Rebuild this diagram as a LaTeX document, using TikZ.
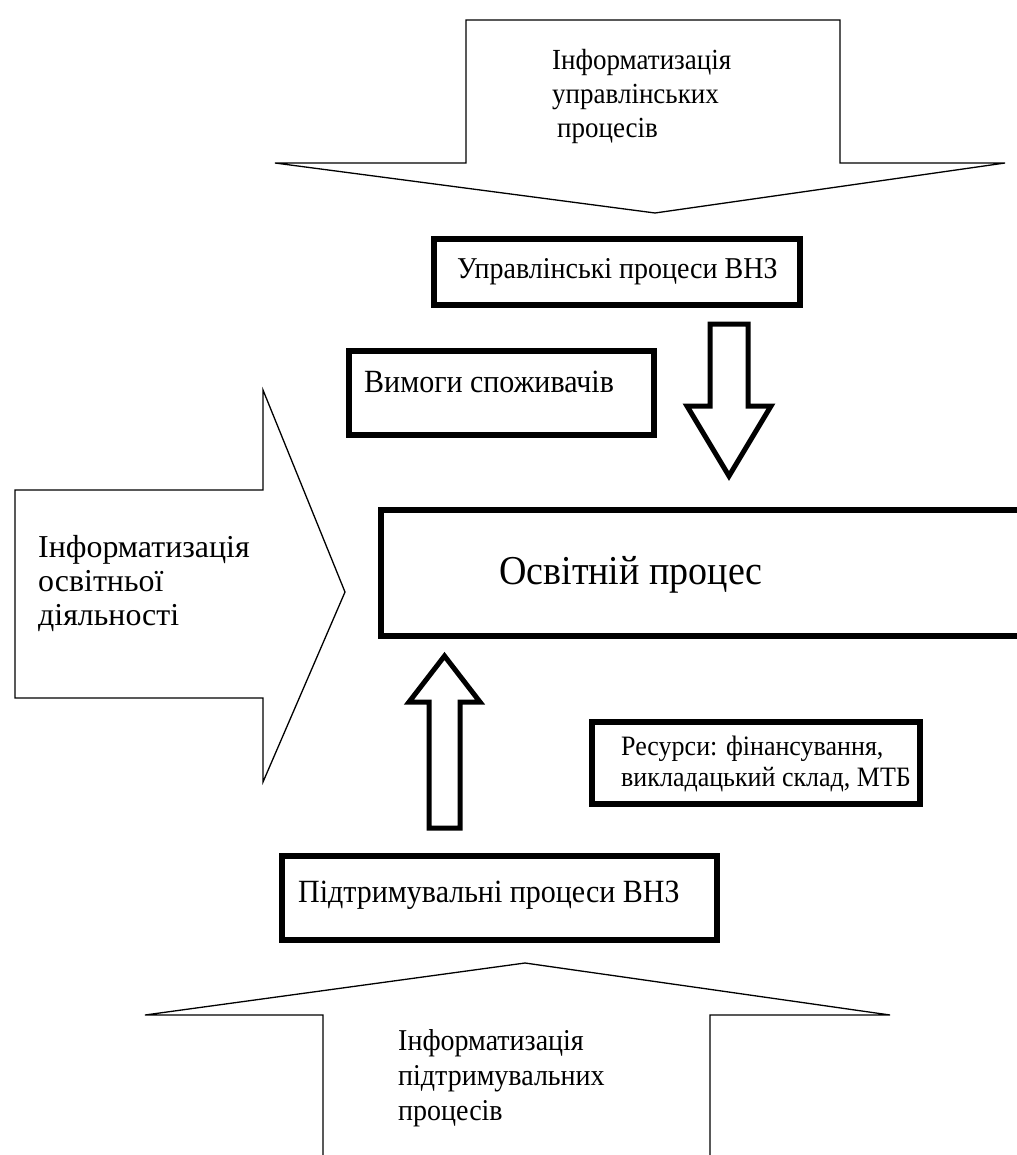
\documentclass[tikz,border=0pt]{standalone}
\usepackage{fontspec}
\setmainfont{Liberation Serif}
\newcommand{\tallt}[1]{\scalebox{1}[1.08]{#1}}
\newcommand{\widet}[1]{\scalebox{1.1}[1.1]{#1}}
\begin{document}
\begin{tikzpicture}[x=1pt,y=-1pt,
  thinarrow/.style={draw=black, line width=1.3pt, fill=white, line join=miter},
  thickbox/.style={draw=black, line width=6pt, fill=white},
  hollow/.style={draw=black, line width=5pt, fill=white, line join=miter, miter limit=10},
  toplbl/.style={font=\fontsize{27}{35}\selectfont, anchor=base west, inner sep=0pt},
  leftlbl/.style={font=\fontsize{29}{35}\selectfont, anchor=base west, inner sep=0pt},
  botlbl/.style={font=\fontsize{28}{35}\selectfont, anchor=base west, inner sep=0pt},
  boxlbl/.style={font=\fontsize{28}{35}\selectfont, anchor=base west, inner sep=0pt},
  bigboxlbl/.style={font=\fontsize{30}{35}\selectfont, anchor=base west, inner sep=0pt},
  biglbl/.style={font=\fontsize{38}{44}\selectfont, anchor=base west, inner sep=0pt},
  smalllbl/.style={font=\fontsize{26}{30}\selectfont, anchor=base west, inner sep=0pt}]
\useasboundingbox[fill=white] (0,0) rectangle (1016,1155);

% top big arrow (down)
\draw[thinarrow] (466,20) -- (840,20) -- (840,163) -- (1005,163) -- (655,213)
  -- (275,163) -- (466,163) -- cycle;
\node[toplbl] (t1) at (552,70) {\tallt{Інформатизація}};
\node[toplbl] (t2) at (552,104) {\tallt{управлінських}};
\node[toplbl] (t3) at (557,138) {\tallt{процесів}};

% box: management processes
\node[thickbox, anchor=north west, minimum width=366pt, minimum height=66pt, inner sep=0pt]
  (upr) at (431,236) {};
\node[boxlbl] (uprt) at (457,279) {\tallt{Управлінські процеси ВНЗ}};

% box: requirements
\node[thickbox, anchor=north west, minimum width=305pt, minimum height=84pt, inner sep=0pt]
  (vym) at (346,348) {};
\node[bigboxlbl] (vymt) at (364,392) {\tallt{Вимоги споживачів}};

% down hollow arrow
\draw[hollow] (710,324) -- (748,324) -- (748,406) -- (771,406) -- (729,476)
  -- (687,406) -- (710,406) -- cycle;

% left big arrow (right)
\draw[thinarrow] (15,490) -- (263,490) -- (263,390) -- (345,592) -- (263,782)
  -- (263,698) -- (15,698) -- cycle;
\node[leftlbl] (l1) at (38,557) {\widet{Інформатизація}};
\node[leftlbl] (l2) at (38,591) {\widet{освітньої}};
\node[leftlbl] (l3) at (38,625) {\widet{діяльності}};

% main box
\node[thickbox, anchor=north west, minimum width=660pt, minimum height=126pt, inner sep=0pt]
  (osv) at (378,507) {};
\node[biglbl] (osvt) at (499,584) {\tallt{Освітній процес}};

% up hollow arrow
\draw[hollow] (429,828) -- (460,828) -- (460,702) -- (480,702) -- (444.5,656)
  -- (409,702) -- (429,702) -- cycle;

% resources box
\node[thickbox, anchor=north west, minimum width=328pt, minimum height=82pt, inner sep=0pt]
  (res) at (589,719) {};
\node[smalllbl] (res1) at (621,755) {\tallt{Ресурси: фінансування,}};
\node[smalllbl] (res2) at (621,786) {\tallt{викладацький склад, МТБ}};

% support box
\node[thickbox, anchor=north west, minimum width=435pt, minimum height=84pt, inner sep=0pt]
  (pid) at (279,853) {};
\node[bigboxlbl] (pidt) at (298,902) {\tallt{Підтримувальні процеси ВНЗ}};

% bottom big arrow (up)
\draw[thinarrow] (323,1170) -- (323,1015) -- (145,1015) -- (525,963) -- (890,1015)
  -- (710,1015) -- (710,1170);
\node[botlbl] (b1) at (398,1050) {\tallt{Інформатизація}};
\node[botlbl] (b2) at (398,1085) {\tallt{підтримувальних}};
\node[botlbl] (b3) at (398,1120) {\tallt{процесів}};
\end{tikzpicture}
\end{document}
